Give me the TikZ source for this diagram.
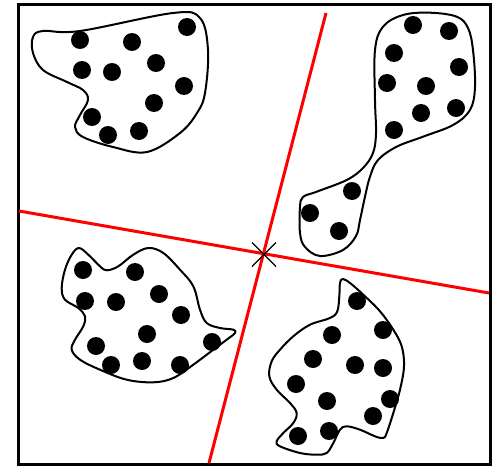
\documentclass[tikz,border=0pt]{standalone}
\usetikzlibrary{calc}
\begin{document}
\begin{tikzpicture}[x=1pt,y=-1pt,
  blob/.style={line width=2pt, line join=round},
  dot/.style={circle, fill=black, inner sep=0pt, minimum size=18pt},
  sep/.style={red, line width=3pt},
  frame/.style={line width=3pt}]
\useasboundingbox (0,0) rectangle (501,466);
\draw[frame] (18,4) rectangle (490,464);
% separating lines
\coordinate (l1a) at (19,211);
\coordinate (l1b) at (489,293);
\coordinate (l2a) at (326,13);
\coordinate (l2b) at (209,463);
\draw[sep] (l1a) -- (l1b);
\draw[sep] (l2a) -- (l2b);
\coordinate (c) at (264,254.5);
\draw[line width=1.2pt] ($(c)+(-12,-12)$) -- ($(c)+(12,12)$);
\draw[line width=1.2pt] ($(c)+(12,-12)$) -- ($(c)+(-12,12)$);
% top-left blob
\draw[blob] plot[smooth cycle, tension=0.6] coordinates {
 (43,31) (80,31) (173,13) (200,18) (208,50) (205,93) (197,113) (180,133)
 (147,152) (113,147) (83,137) (75,127) (80,115) (88,100) (83,90) (67,82)
 (43,70) (33,53) (33,37)};
\foreach \p [count=\i] in {(80,40),(132,42),(187,27),(82,70),(112,72),(156,63),(184,86),(154,103),(92,117),(108,135),(139,131)}
  \node[dot] (a\i) at \p {};
% top-right blob
\draw[blob] plot[smooth cycle, tension=0.6] coordinates {
 (300,207) (303,197) (316.7,191.7) (346.7,180) (363,168) (373,153) (376,133)
 (375,100) (375,50) (383,26.7) (403,15) (430,12.7) (456.7,16.7) (468,28)
 (473,50) (475,86.7) (470,110) (453,125) (423,136.7) (396.7,146.7) (378,160)
 (370,176.7) (365,196.7) (360,220) (356,236) (343,250) (320,256) (305,247) (300,233)};
\foreach \p [count=\i] in {(413,25),(449,31),(394,53),(459,67),(387,83),(426,86),(421,113),(456,108),(394,130),(352,191),(310,213),(339,231)}
  \node[dot] (b\i) at \p {};
% bottom-left blob
\draw[blob] plot[smooth cycle, tension=0.6] coordinates {
 (79,248) (88.3,254.7) (100,266.3) (106.7,270.3) (118.3,266.3) (133.3,254.7)
 (148.3,248) (163.3,253) (180,269.7) (193.3,286.3) (200,309.7) (206.7,323)
 (220,328) (233.3,329.7) (235,333) (226.7,339.7) (213.3,349.7) (193.3,364.7)
 (173.3,378) (153.3,382.3) (126.7,379.7) (100,369.7) (80,359.7) (71.7,349.7)
 (75,339.7) (83.3,326.3) (85,316.3) (78.3,308) (65,299.7) (61.7,288) (65,269.7) (71.7,254.7)};
\foreach \p [count=\i] in {(83,270),(135,272),(85,301),(116,302),(159,294),(181,315),(147,334),(96,346),(212,342),(111,365),(142,361),(180,365)}
  \node[dot] (d\i) at \p {};
% bottom-right blob
\draw[blob] plot[smooth cycle, tension=0.6] coordinates {
 (342.7,279) (350,283) (363.3,294.7) (380,311.3) (393.3,329.7) (401.7,346.3)
 (404,366.3) (400,389.7) (393.3,413) (386.7,433) (383.3,438) (375,436.3)
 (360,429.7) (346.7,426.3) (340,429.7) (333.3,443) (326.7,453) (316.7,454.7)
 (300,453) (280,446.3) (276.7,441.3) (283.3,433) (293.3,423) (296.7,413)
 (290,403) (276.7,389.7) (269.3,376.3) (271.7,361.3) (280,349.7) (293.3,336.3)
 (310,324.7) (330,318) (337.3,311.3) (339.3,296.3) (340,283)};
\foreach \p [count=\i] in {(357,301),(383,330),(332,335),(313,359),(355,365),(383,368),(296,384),(327,401),(390,399),(373,416),(298,436),(329,431)}
  \node[dot] (e\i) at \p {};
\end{tikzpicture}
\end{document}
